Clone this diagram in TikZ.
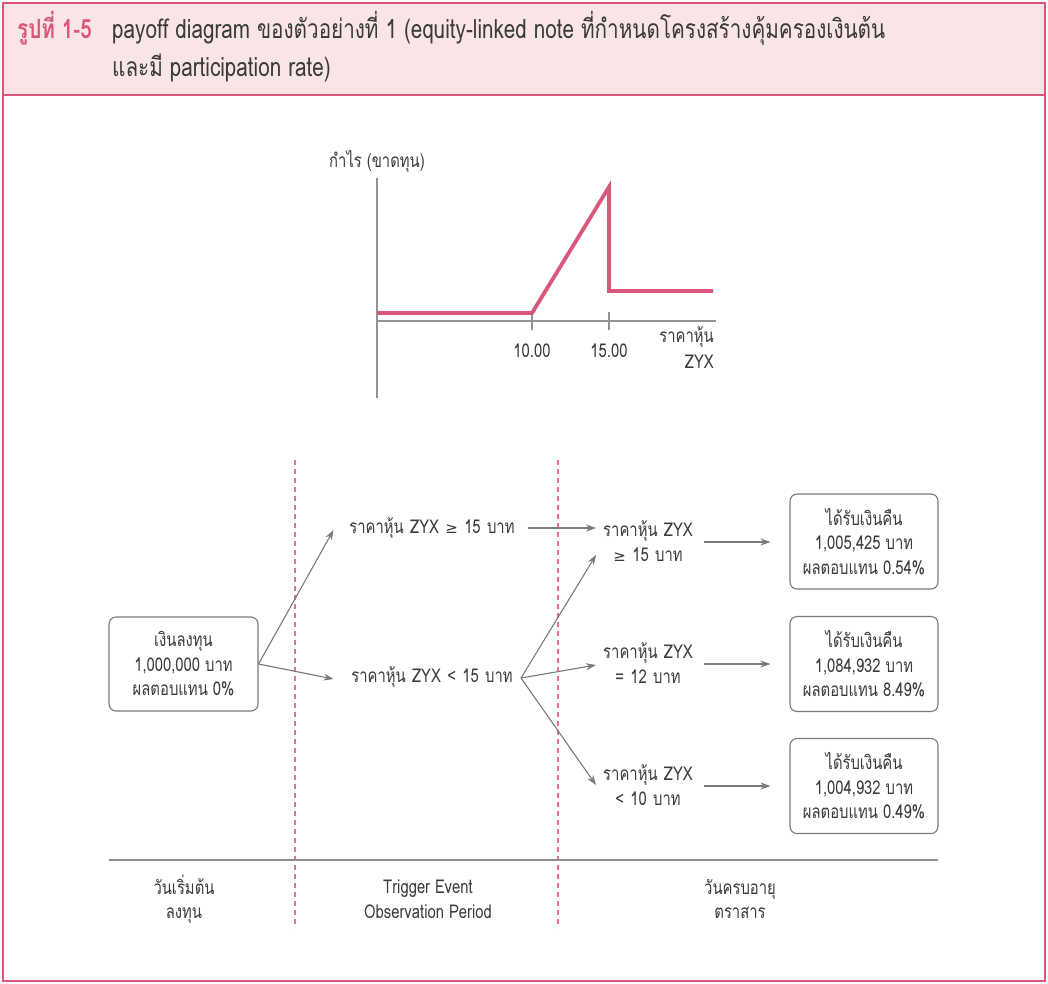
\documentclass[tikz,border=0pt]{standalone}
\usepackage{fontspec}
\setmainfont[Script=Thai,FakeStretch=0.78]{Loma}
\newfontfamily\symf{DejaVu Sans}
\usetikzlibrary{arrows.meta,calc}
\definecolor{pinkline}{HTML}{D9577A}
\definecolor{headfill}{HTML}{F9E4E6}
\definecolor{grayline}{HTML}{7A7A7A}
\definecolor{txt}{HTML}{3A3A3A}
\begin{document}
\begin{tikzpicture}[x=1pt,y=-1pt,
  every node/.style={text=txt,font=\fontsize{19}{24.5}\selectfont},
  lbl/.style={inner sep=0pt,align=center},
  box/.style={draw=grayline,line width=1.1pt,rounded corners=7pt,align=center,minimum width=149pt,minimum height=94pt,inner sep=0pt},
  rbox/.style={box,minimum width=148pt,minimum height=95pt},
  arr/.style={draw=grayline,line width=1.1pt,-{Stealth[length=10pt,width=7pt]}},
  sep/.style={draw=pinkline!85,line width=1.2pt,dash pattern=on 5pt off 4pt},
  axis/.style={draw=gray!85,line width=1.2pt},
  pay/.style={draw=pinkline,line width=3.8pt},
  head/.style={inner sep=0pt,anchor=west,font=\fontsize{26.5}{30}\selectfont}
]
\useasboundingbox (0,0) rectangle (1048,983);
% frame and header
\fill[headfill] (3,3) rectangle (1045,95);
\draw[pinkline,line width=2.5pt] (3,95) -- (1045,95);
\draw[pinkline,line width=2.5pt] (3,3) rectangle (1045,981);
\node[head,text=pinkline,font=\bfseries\fontsize{26.5}{30}\selectfont] (fig) at (17,28) {รูปที่ 1-5};
\node[head] (t1) at (112,28) {payoff diagram ของตัวอย่างที่ 1 (equity-linked note ที่กำหนดโครงสร้างคุ้มครองเงินต้น};
\node[head] (t2) at (112,68) {และมี participation rate)};
% payoff chart
\draw[axis] (377,178) -- (377,398);
\draw[axis] (377,321) -- (716,321);
\draw[axis] (532,312) -- (532,330);
\draw[axis] (609,312) -- (609,330);
\draw[pay] (377,313) -- (532,313) -- (609,187) -- (609,291) -- (713,291);
\node[lbl] (ylab) at (377,161) {กำไร (ขาดทุน)};
\node[lbl] (t10) at (532,351) {10.00};
\node[lbl] (t15) at (609,351) {15.00};
\node[lbl,anchor=east] (xl1) at (714,337) {ราคาหุ้น};
\node[lbl,anchor=east] (xl2) at (714,362) {ZYX};
% separators
\draw[sep] (295,460) -- (295,928);
\draw[sep] (558,460) -- (558,928);
\draw[draw=gray!90,line width=1.3pt] (109,860) -- (938,860);
\node[lbl] (d1) at (184,899) {วันเริ่มต้น\\ลงทุน};
\node[lbl] (d2) at (428,899) {Trigger Event\\Observation Period};
\node[lbl] (d3) at (740,899) {วันครบอายุ\\ตราสาร};
% nodes
\node[box] (start) at (183.5,664) {เงินลงทุน\\1,000,000 บาท\\ผลตอบแทน 0\%};
\node[lbl,text width=220pt] (up) at (432,528) {ราคาหุ้น ZYX {\symf\fontsize{15}{15}\selectfont ≥} 15 บาท};
\node[lbl,text width=220pt] (lo) at (432,677) {ราคาหุ้น ZYX < 15 บาท};
\node[lbl,text width=120pt] (r1) at (648,541) {ราคาหุ้น ZYX\\{\symf\fontsize{15}{15}\selectfont ≥} 15 บาท};
\node[lbl,text width=120pt] (r2) at (648,663) {ราคาหุ้น ZYX\\= 12 บาท};
\node[lbl,text width=120pt] (r3) at (648,785) {ราคาหุ้น ZYX\\< 10 บาท};
\node[rbox] (b1) at (864,541.5) {ได้รับเงินคืน\\1,005,425 บาท\\ผลตอบแทน 0.54\%};
\node[rbox] (b2) at (864,664) {ได้รับเงินคืน\\1,084,932 บาท\\ผลตอบแทน 8.49\%};
\node[rbox] (b3) at (864,786) {ได้รับเงินคืน\\1,004,932 บาท\\ผลตอบแทน 0.49\%};
% connectors
\draw[arr] (start.east) -- ($(up.center)+(-98.5,2)$);
\draw[arr] (start.east) -- ($(lo.center)+(-98.5,2)$);
\draw[arr] ($(up.center)+(95.5,0)$) -- ($(r1.center|-up.center)+(-52,0)$);
\draw[arr] ($(lo.center)+(89,1)$) -- ($(r1.center)+(-52,14)$);
\draw[arr] ($(lo.center)+(89,1)$) -- ($(r2.center)+(-52,2)$);
\draw[arr] ($(lo.center)+(89,1)$) -- ($(r3.center)+(-52,0)$);
\draw[arr] ($(r1.center)+(56,1)$) -- ($(b1.west)+(-19,0.5)$);
\draw[arr] ($(r2.center)+(56,1)$) -- ($(b2.west)+(-19,0)$);
\draw[arr] ($(r3.center)+(56,1)$) -- ($(b3.west)+(-19,0)$);
\end{tikzpicture}
\end{document}
